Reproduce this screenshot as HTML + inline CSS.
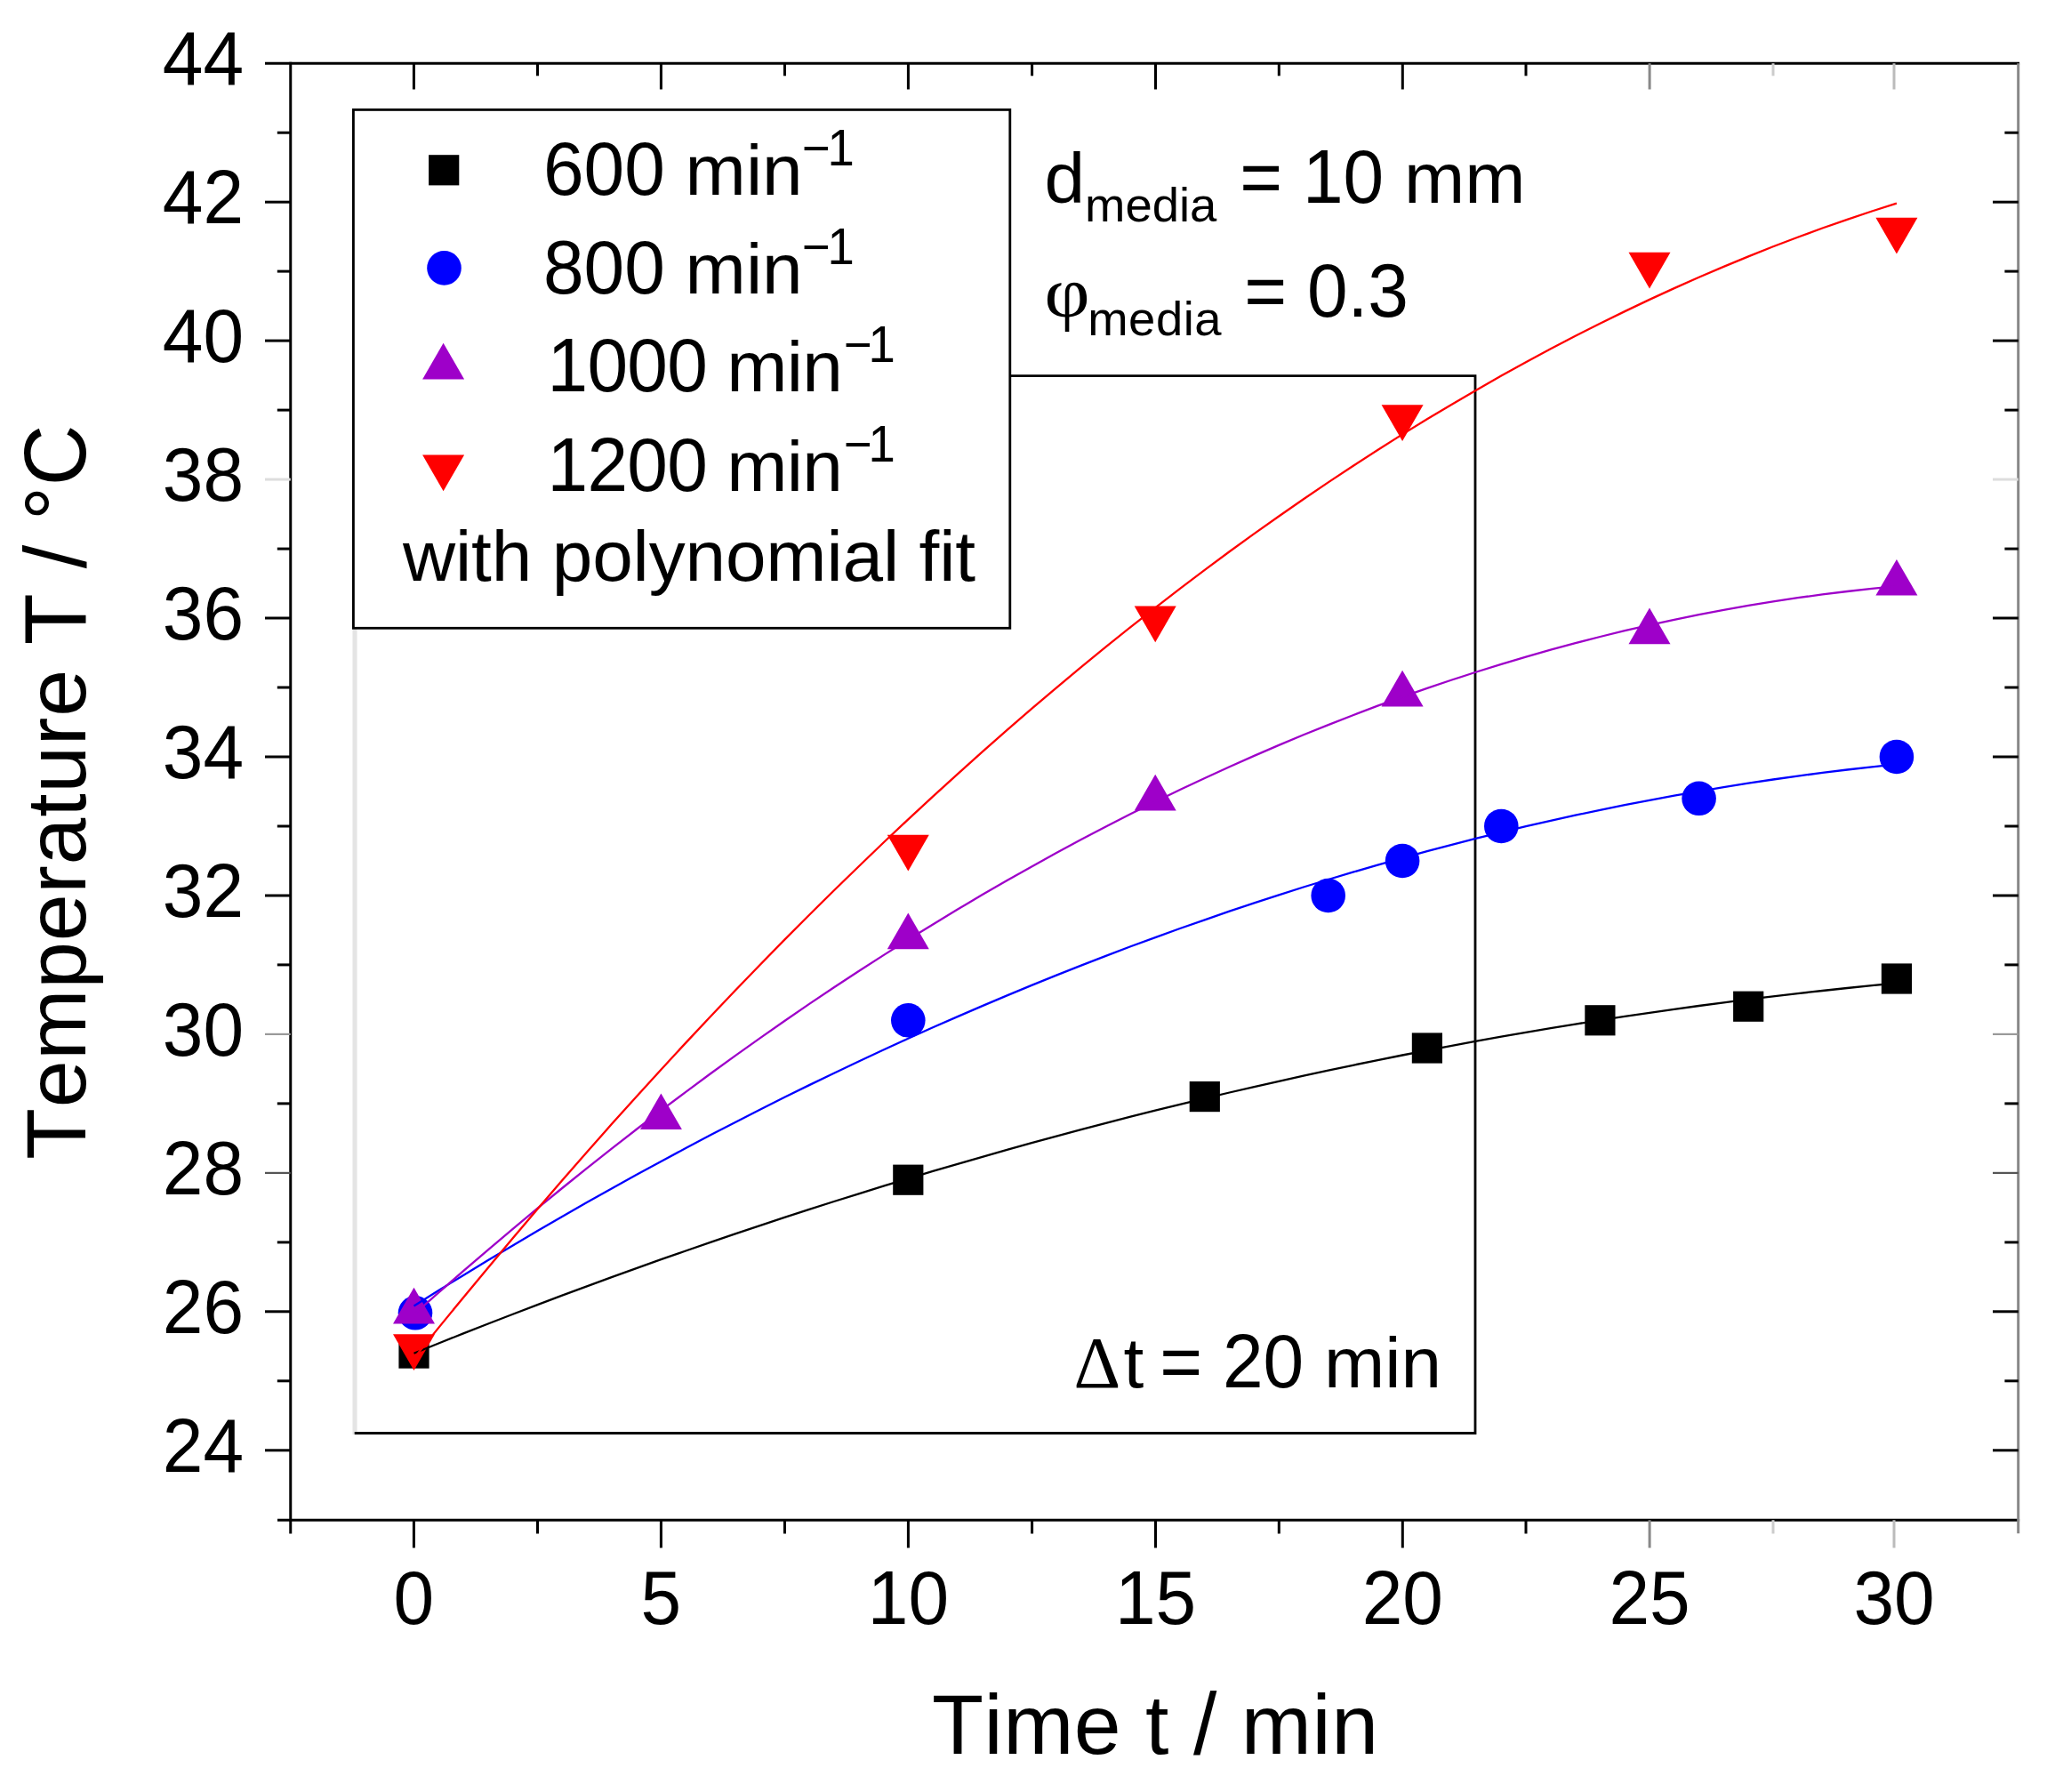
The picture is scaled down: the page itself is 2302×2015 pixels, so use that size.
<!DOCTYPE html>
<html><head><meta charset="utf-8"><title>Temperature vs time</title>
<style>html,body{margin:0;padding:0;background:#fff}svg{display:block}</style></head>
<body>
<svg width="2302" height="2015" viewBox="0 0 2302 2015">
<rect width="2302" height="2015" fill="#fff"/>
<g fill="none" stroke-width="2.8">
<line x1="399" y1="700" x2="399" y2="1613" stroke="#e4e4e4" stroke-width="5"/>
<polyline points="1130,422.7 1659,422.7 1659,1611.5 398.7,1611.5" stroke="#000"/>
</g>
<rect x="448.4" y="1504.5" width="34.2" height="34.2" fill="#000"/>
<rect x="1004.2" y="1309.6" width="34.2" height="34.2" fill="#000"/>
<rect x="1337.7" y="1216.0" width="34.2" height="34.2" fill="#000"/>
<rect x="1587.8" y="1161.4" width="34.2" height="34.2" fill="#000"/>
<rect x="1782.3" y="1130.2" width="34.2" height="34.2" fill="#000"/>
<rect x="1949.1" y="1114.6" width="34.2" height="34.2" fill="#000"/>
<rect x="2115.8" y="1083.4" width="34.2" height="34.2" fill="#000"/>
<circle cx="467.0" cy="1476.3" r="19.3" fill="#0000ff"/>
<circle cx="1021.3" cy="1147.3" r="19.3" fill="#0000ff"/>
<circle cx="1493.7" cy="1007.0" r="19.3" fill="#0000ff"/>
<circle cx="1577.1" cy="968.0" r="19.3" fill="#0000ff"/>
<circle cx="1688.3" cy="929.0" r="19.3" fill="#0000ff"/>
<circle cx="1910.6" cy="897.8" r="19.3" fill="#0000ff"/>
<circle cx="2132.9" cy="851.0" r="19.3" fill="#0000ff"/>
<polygon points="465.5,1447.7 489.0,1488.4 442.0,1488.4" fill="#9e00c9"/>
<polygon points="743.4,1229.4 766.9,1270.1 719.9,1270.1" fill="#9e00c9"/>
<polygon points="1021.3,1026.6 1044.8,1067.3 997.8,1067.3" fill="#9e00c9"/>
<polygon points="1299.2,870.7 1322.7,911.4 1275.7,911.4" fill="#9e00c9"/>
<polygon points="1577.1,753.7 1600.6,794.4 1553.6,794.4" fill="#9e00c9"/>
<polygon points="1855.0,683.5 1878.5,724.2 1831.5,724.2" fill="#9e00c9"/>
<polygon points="2132.9,628.9 2156.4,669.6 2109.4,669.6" fill="#9e00c9"/>
<polygon points="465.5,1541.0 489.0,1500.3 442.0,1500.3" fill="#ff0000"/>
<polygon points="1021.3,979.5 1044.8,938.8 997.8,938.8" fill="#ff0000"/>
<polygon points="1299.2,722.2 1322.7,681.5 1275.7,681.5" fill="#ff0000"/>
<polygon points="1577.1,496.0 1600.6,455.3 1553.6,455.3" fill="#ff0000"/>
<polygon points="1855.0,324.5 1878.5,283.8 1831.5,283.8" fill="#ff0000"/>
<polygon points="2132.9,285.5 2156.4,244.8 2109.4,244.8" fill="#ff0000"/>
<g fill="none" stroke-width="2.3">
<polyline points="465.5,1521.7 493.3,1510.5 521.1,1499.4 548.9,1488.5 576.7,1477.8 604.5,1467.1 632.2,1456.7 660.0,1446.4 687.8,1436.2 715.6,1426.1 743.4,1416.2 771.2,1406.5 799.0,1396.9 826.8,1387.4 854.6,1378.1 882.3,1368.9 910.1,1359.9 937.9,1351.0 965.7,1342.3 993.5,1333.7 1021.3,1325.3 1049.1,1316.9 1076.9,1308.8 1104.7,1300.8 1132.5,1292.9 1160.2,1285.2 1188.0,1277.6 1215.8,1270.1 1243.6,1262.8 1271.4,1255.7 1299.2,1248.7 1327.0,1241.8 1354.8,1235.1 1382.6,1228.5 1410.4,1222.1 1438.2,1215.8 1465.9,1209.7 1493.7,1203.7 1521.5,1197.8 1549.3,1192.1 1577.1,1186.5 1604.9,1181.1 1632.7,1175.8 1660.5,1170.7 1688.3,1165.7 1716.0,1160.9 1743.8,1156.2 1771.6,1151.6 1799.4,1147.2 1827.2,1142.9 1855.0,1138.8 1882.8,1134.8 1910.6,1131.0 1938.4,1127.3 1966.2,1123.7 1994.0,1120.3 2021.7,1117.1 2049.5,1114.0 2077.3,1111.0 2105.1,1108.2 2132.9,1105.5" stroke="#000"/>
<polyline points="465.5,1468.4 493.3,1451.1 521.1,1433.9 548.9,1417.1 576.7,1400.5 604.5,1384.1 632.2,1368.0 660.0,1352.1 687.8,1336.4 715.6,1321.0 743.4,1305.9 771.2,1291.0 799.0,1276.3 826.8,1261.9 854.6,1247.7 882.3,1233.8 910.1,1220.1 937.9,1206.7 965.7,1193.5 993.5,1180.5 1021.3,1167.8 1049.1,1155.3 1076.9,1143.1 1104.7,1131.1 1132.5,1119.4 1160.2,1107.9 1188.0,1096.6 1215.8,1085.6 1243.6,1074.9 1271.4,1064.3 1299.2,1054.1 1327.0,1044.0 1354.8,1034.3 1382.6,1024.7 1410.4,1015.4 1438.2,1006.4 1465.9,997.5 1493.7,989.0 1521.5,980.7 1549.3,972.6 1577.1,964.8 1604.9,957.2 1632.7,949.8 1660.5,942.7 1688.3,935.9 1716.0,929.2 1743.8,922.9 1771.6,916.7 1799.4,910.9 1827.2,905.2 1855.0,899.8 1882.8,894.7 1910.6,889.8 1938.4,885.1 1966.2,880.7 1994.0,876.5 2021.7,872.6 2049.5,868.9 2077.3,865.5 2105.1,862.3 2132.9,859.3" stroke="#0000ff"/>
<polyline points="465.5,1478.0 493.3,1453.4 521.1,1429.2 548.9,1405.3 576.7,1381.8 604.5,1358.7 632.2,1336.0 660.0,1313.6 687.8,1291.6 715.6,1270.0 743.4,1248.7 771.2,1227.8 799.0,1207.3 826.8,1187.1 854.6,1167.4 882.3,1148.0 910.1,1128.9 937.9,1110.3 965.7,1092.0 993.5,1074.1 1021.3,1056.5 1049.1,1039.4 1076.9,1022.6 1104.7,1006.1 1132.5,990.1 1160.2,974.4 1188.0,959.1 1215.8,944.1 1243.6,929.5 1271.4,915.3 1299.2,901.5 1327.0,888.0 1354.8,875.0 1382.6,862.2 1410.4,849.9 1438.2,837.9 1465.9,826.3 1493.7,815.1 1521.5,804.2 1549.3,793.7 1577.1,783.6 1604.9,773.9 1632.7,764.5 1660.5,755.5 1688.3,746.8 1716.0,738.6 1743.8,730.7 1771.6,723.2 1799.4,716.0 1827.2,709.2 1855.0,702.8 1882.8,696.8 1910.6,691.1 1938.4,685.8 1966.2,680.9 1994.0,676.4 2021.7,672.2 2049.5,668.4 2077.3,665.0 2105.1,661.9 2132.9,659.2" stroke="#9e00c9"/>
<polyline points="465.5,1527.3 493.3,1492.9 521.1,1458.9 548.9,1425.4 576.7,1392.3 604.5,1359.6 632.2,1327.3 660.0,1295.5 687.8,1264.1 715.6,1233.2 743.4,1202.7 771.2,1172.6 799.0,1143.0 826.8,1113.7 854.6,1085.0 882.3,1056.6 910.1,1028.7 937.9,1001.2 965.7,974.2 993.5,947.5 1021.3,921.3 1049.1,895.6 1076.9,870.3 1104.7,845.4 1132.5,820.9 1160.2,796.9 1188.0,773.3 1215.8,750.2 1243.6,727.4 1271.4,705.1 1299.2,683.3 1327.0,661.8 1354.8,640.8 1382.6,620.3 1410.4,600.1 1438.2,580.5 1465.9,561.2 1493.7,542.4 1521.5,524.0 1549.3,506.0 1577.1,488.4 1604.9,471.3 1632.7,454.7 1660.5,438.4 1688.3,422.6 1716.0,407.3 1743.8,392.3 1771.6,377.8 1799.4,363.7 1827.2,350.1 1855.0,336.9 1882.8,324.1 1910.6,311.8 1938.4,299.9 1966.2,288.4 1994.0,277.3 2021.7,266.7 2049.5,256.5 2077.3,246.8 2105.1,237.5 2132.9,228.6" stroke="#ff0000"/>
</g>
<rect x="397.4" y="123.4" width="738.4" height="582.9" fill="#fff" stroke="#000" stroke-width="2.8"/>
<rect x="482.1" y="174.2" width="34.2" height="34.2" fill="#000"/>
<circle cx="499.5" cy="301.4" r="19.3" fill="#0000ff"/>
<polygon points="498.6,385.7 522.1,426.4 475.1,426.4" fill="#9e00c9"/>
<polygon points="498.6,552.3 522.1,511.6 475.1,511.6" fill="#ff0000"/>
<g stroke="#000" stroke-width="3" fill="none">
<line x1="326.75" y1="69.7" x2="326.75" y2="1710.7"/>
<line x1="298" y1="71.2" x2="2271.1" y2="71.2"/>
<line x1="312" y1="1709.2" x2="2271.1" y2="1709.2"/>
<line x1="2269.7" y1="71.2" x2="2269.7" y2="1724.2" stroke="#888"/>
<line x1="298" y1="1630.8" x2="326.75" y2="1630.8" stroke="#000" stroke-width="3"/>
<line x1="2241" y1="1630.8" x2="2269.7" y2="1630.8" stroke="#000" stroke-width="3"/>
<line x1="311.8" y1="1552.8" x2="326.75" y2="1552.8" stroke="#000" stroke-width="3"/>
<line x1="2254.4" y1="1552.8" x2="2269.7" y2="1552.8" stroke="#000" stroke-width="3"/>
<line x1="298" y1="1474.8" x2="326.75" y2="1474.8" stroke="#000" stroke-width="3"/>
<line x1="2241" y1="1474.8" x2="2269.7" y2="1474.8" stroke="#000" stroke-width="3"/>
<line x1="311.8" y1="1396.9" x2="326.75" y2="1396.9" stroke="#000" stroke-width="3"/>
<line x1="2254.4" y1="1396.9" x2="2269.7" y2="1396.9" stroke="#000" stroke-width="3"/>
<line x1="298" y1="1318.9" x2="326.75" y2="1318.9" stroke="#555" stroke-width="2.2"/>
<line x1="2241" y1="1318.9" x2="2269.7" y2="1318.9" stroke="#555" stroke-width="2.2"/>
<line x1="311.8" y1="1240.9" x2="326.75" y2="1240.9" stroke="#000" stroke-width="3"/>
<line x1="2254.4" y1="1240.9" x2="2269.7" y2="1240.9" stroke="#000" stroke-width="3"/>
<line x1="298" y1="1162.9" x2="326.75" y2="1162.9" stroke="#999" stroke-width="2.2"/>
<line x1="2241" y1="1162.9" x2="2269.7" y2="1162.9" stroke="#999" stroke-width="2.2"/>
<line x1="311.8" y1="1084.9" x2="326.75" y2="1084.9" stroke="#000" stroke-width="3"/>
<line x1="2254.4" y1="1084.9" x2="2269.7" y2="1084.9" stroke="#000" stroke-width="3"/>
<line x1="298" y1="1007.0" x2="326.75" y2="1007.0" stroke="#000" stroke-width="3"/>
<line x1="2241" y1="1007.0" x2="2269.7" y2="1007.0" stroke="#000" stroke-width="3"/>
<line x1="311.8" y1="929.0" x2="326.75" y2="929.0" stroke="#000" stroke-width="3"/>
<line x1="2254.4" y1="929.0" x2="2269.7" y2="929.0" stroke="#000" stroke-width="3"/>
<line x1="298" y1="851.0" x2="326.75" y2="851.0" stroke="#000" stroke-width="3"/>
<line x1="2241" y1="851.0" x2="2269.7" y2="851.0" stroke="#000" stroke-width="3"/>
<line x1="311.8" y1="773.0" x2="326.75" y2="773.0" stroke="#000" stroke-width="3"/>
<line x1="2254.4" y1="773.0" x2="2269.7" y2="773.0" stroke="#000" stroke-width="3"/>
<line x1="298" y1="695.0" x2="326.75" y2="695.0" stroke="#000" stroke-width="3"/>
<line x1="2241" y1="695.0" x2="2269.7" y2="695.0" stroke="#000" stroke-width="3"/>
<line x1="311.8" y1="617.1" x2="326.75" y2="617.1" stroke="#000" stroke-width="3"/>
<line x1="2254.4" y1="617.1" x2="2269.7" y2="617.1" stroke="#000" stroke-width="3"/>
<line x1="298" y1="539.1" x2="326.75" y2="539.1" stroke="#ddd" stroke-width="3"/>
<line x1="2241" y1="539.1" x2="2269.7" y2="539.1" stroke="#ddd" stroke-width="3"/>
<line x1="311.8" y1="461.1" x2="326.75" y2="461.1" stroke="#000" stroke-width="3"/>
<line x1="2254.4" y1="461.1" x2="2269.7" y2="461.1" stroke="#000" stroke-width="3"/>
<line x1="298" y1="383.1" x2="326.75" y2="383.1" stroke="#000" stroke-width="3"/>
<line x1="2241" y1="383.1" x2="2269.7" y2="383.1" stroke="#000" stroke-width="3"/>
<line x1="311.8" y1="305.1" x2="326.75" y2="305.1" stroke="#000" stroke-width="3"/>
<line x1="2254.4" y1="305.1" x2="2269.7" y2="305.1" stroke="#000" stroke-width="3"/>
<line x1="298" y1="227.2" x2="326.75" y2="227.2" stroke="#000" stroke-width="3"/>
<line x1="2241" y1="227.2" x2="2269.7" y2="227.2" stroke="#000" stroke-width="3"/>
<line x1="311.8" y1="149.2" x2="326.75" y2="149.2" stroke="#000" stroke-width="3"/>
<line x1="2254.4" y1="149.2" x2="2269.7" y2="149.2" stroke="#000" stroke-width="3"/>
<line x1="465.4" y1="71.2" x2="465.4" y2="100.5" stroke="#000"/>
<line x1="465.4" y1="1709.2" x2="465.4" y2="1740.5" stroke="#000"/>
<line x1="604.5" y1="71.2" x2="604.5" y2="85.3" stroke="#000"/>
<line x1="604.5" y1="1709.2" x2="604.5" y2="1724.5" stroke="#000"/>
<line x1="743.4" y1="71.2" x2="743.4" y2="100.5" stroke="#000"/>
<line x1="743.4" y1="1709.2" x2="743.4" y2="1740.5" stroke="#000"/>
<line x1="882.5" y1="71.2" x2="882.5" y2="85.3" stroke="#000"/>
<line x1="882.5" y1="1709.2" x2="882.5" y2="1724.5" stroke="#000"/>
<line x1="1021.4" y1="71.2" x2="1021.4" y2="100.5" stroke="#000"/>
<line x1="1021.4" y1="1709.2" x2="1021.4" y2="1740.5" stroke="#000"/>
<line x1="1160.6" y1="71.2" x2="1160.6" y2="85.3" stroke="#000"/>
<line x1="1160.6" y1="1709.2" x2="1160.6" y2="1724.5" stroke="#000"/>
<line x1="1299.5" y1="71.2" x2="1299.5" y2="100.5" stroke="#000"/>
<line x1="1299.5" y1="1709.2" x2="1299.5" y2="1740.5" stroke="#000"/>
<line x1="1438.3" y1="71.2" x2="1438.3" y2="85.3" stroke="#000"/>
<line x1="1438.3" y1="1709.2" x2="1438.3" y2="1724.5" stroke="#000"/>
<line x1="1577.3" y1="71.2" x2="1577.3" y2="100.5" stroke="#000"/>
<line x1="1577.3" y1="1709.2" x2="1577.3" y2="1740.5" stroke="#000"/>
<line x1="1716" y1="71.2" x2="1716" y2="85.3" stroke="#000"/>
<line x1="1716" y1="1709.2" x2="1716" y2="1724.5" stroke="#000"/>
<line x1="1855.1" y1="71.2" x2="1855.1" y2="100.5" stroke="#888"/>
<line x1="1855.1" y1="1709.2" x2="1855.1" y2="1740.5" stroke="#888"/>
<line x1="1994" y1="71.2" x2="1994" y2="85.3" stroke="#ccc"/>
<line x1="1994" y1="1709.2" x2="1994" y2="1724.5" stroke="#ccc"/>
<line x1="2130" y1="71.2" x2="2130" y2="100.5" stroke="#bbb"/>
<line x1="2130" y1="1709.2" x2="2130" y2="1740.5" stroke="#bbb"/>
<line x1="326.75" y1="1709.2" x2="326.75" y2="1724.5"/>
</g>
<g font-family="'Liberation Sans', Arial, sans-serif" fill="#000" font-size="82" style="font-kerning:none;white-space:pre" xml:space="preserve">
<text transform="translate(182.79,1654.8) scale(1,1.04)">24</text>
<text transform="translate(182.79,1498.8) scale(1,1.04)">26</text>
<text transform="translate(182.79,1342.9) scale(1,1.04)">28</text>
<text transform="translate(182.79,1186.9) scale(1,1.04)">30</text>
<text transform="translate(182.79,1031.0) scale(1,1.04)">32</text>
<text transform="translate(182.79,875.0) scale(1,1.04)">34</text>
<text transform="translate(182.79,719.0) scale(1,1.04)">36</text>
<text transform="translate(182.79,563.1) scale(1,1.04)">38</text>
<text transform="translate(182.79,407.1) scale(1,1.04)">40</text>
<text transform="translate(182.79,251.2) scale(1,1.04)">42</text>
<text transform="translate(182.79,95.2) scale(1,1.04)">44</text>
<text transform="translate(442.60,1826) scale(1,1.04)">0</text>
<text transform="translate(720.60,1826) scale(1,1.04)">5</text>
<text transform="translate(975.80,1826) scale(1,1.04)">10</text>
<text transform="translate(1253.90,1826) scale(1,1.04)">15</text>
<text transform="translate(1531.70,1826) scale(1,1.04)">20</text>
<text transform="translate(1809.50,1826) scale(1,1.04)">25</text>
<text transform="translate(2084.40,1826) scale(1,1.04)">30</text>
<text transform="translate(1048.00,1972.4) scale(1,0.995)" font-size="95" letter-spacing="0.529">Time t </text>
<text transform="translate(1341.99,1972.4) scale(1,1.04)" font-size="95" letter-spacing="0.529">/ </text>
<text transform="translate(1395.84,1972.4) scale(1,0.995)" font-size="95" letter-spacing="0.529">min</text>
<g transform="translate(96.2,1304) rotate(-90)">
<text transform="translate(0.00,0) scale(1,0.995)" font-size="95" letter-spacing="0.720">Temperature </text>
<text transform="translate(578.87,0) scale(1,1.04)" font-size="95" letter-spacing="0.720">T / °C</text>
</g>
<text transform="translate(611.00,218.8) scale(1,1.04)">600 </text>
<text transform="translate(770.60,218.8) scale(1,0.97)">min</text>
<text transform="translate(901.72,185.5) scale(1,1.04)" font-size="54.5" letter-spacing="-3.000">−1</text>
<text transform="translate(611.00,330.2) scale(1,1.04)">800 </text>
<text transform="translate(770.60,330.2) scale(1,0.97)">min</text>
<text transform="translate(901.72,296.9) scale(1,1.04)" font-size="54.5" letter-spacing="-3.000">−1</text>
<text transform="translate(615.50,440.4) scale(1,1.04)" letter-spacing="-0.700">1000 </text>
<text transform="translate(817.20,440.4) scale(1,0.97)" letter-spacing="-0.700">min</text>
<text transform="translate(948.73,407.09999999999997) scale(1,1.04)" font-size="54.5" letter-spacing="-4.000">−1</text>
<text transform="translate(615.50,551.8) scale(1,1.04)" letter-spacing="-0.700">1200 </text>
<text transform="translate(817.20,551.8) scale(1,0.97)" letter-spacing="-0.700">min</text>
<text transform="translate(948.73,518.5) scale(1,1.04)" font-size="54.5" letter-spacing="-4.000">−1</text>
<text transform="translate(453.00,652.8) scale(1,0.97)" letter-spacing="-0.166">with polynomial fit</text>
<text transform="translate(1174.50,227.6) scale(1,0.97)">d</text>
<text transform="translate(1220.00,249.3) scale(1,0.97)" font-size="54.5">media</text>
<text transform="translate(1394.30,227.6) scale(1,1.04)">= 10 </text>
<text transform="translate(1578.96,227.6) scale(1,0.97)">mm</text>
<text transform="translate(1174.6,355.7) scale(1.08,0.99)" font-family="'Liberation Serif', 'DejaVu Serif', serif">φ</text>
<text transform="translate(1223.20,377.1) scale(1,0.97)" font-size="54.5" letter-spacing="0.512">media</text>
<text transform="translate(1399.30,355.7) scale(1,1.04)">= 0.3</text>
<text transform="translate(1207.5,1560)" font-family="'Liberation Serif', 'DejaVu Serif', serif">Δ</text>
<text transform="translate(1263.50,1560) scale(1,0.97)">t</text>
<text transform="translate(1304.30,1560) scale(1,1.04)">= 20 </text>
<text transform="translate(1488.96,1560) scale(1,0.97)">min</text>
</g>
</svg>
</body></html>
